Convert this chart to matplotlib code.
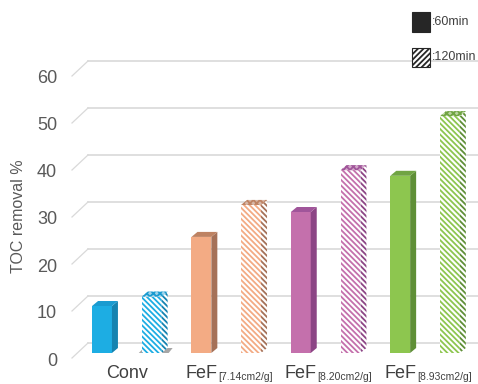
import matplotlib.pyplot as plt
from matplotlib.patches import Polygon, Rectangle
from matplotlib.transforms import offset_copy

plt.rcParams['font.family'] = ['Liberation Sans', 'DejaVu Sans']
plt.rcParams['hatch.linewidth'] = 1.3

# data
groups = ["Conv", "FeF", "FeF", "FeF"]
group_sub = ["", "[7.14cm2/g]", "[8.20cm2/g]", "[8.93cm2/g]"]
toc_60 = [10.0, 24.7, 30.0, 37.7]
toc_120 = [12.0, 31.5, 38.9, 50.4]
yticks = [0, 10, 20, 30, 40, 50, 60]

front = ['#1DADE3', '#F3AB84', '#C470AC', '#8DC64F']
side = ['#1583B0', '#A57158', '#8C4585', '#5F8F37']
top = ['#1A9BD0', '#BE8262', '#A0559A', '#70A443']
top_light = ['#9fd3ea', '#d7b7a6', '#d2a7c8', '#b9d39f']

W, H = 478, 384
fig = plt.figure(figsize=(W / 100, H / 100), dpi=100)
ax = fig.add_axes([72 / W, 31 / H, 406 / W, 282 / H])

pitch = 49.7          # px per bar slot
ppu = 282 / 60        # px per % on the y axis
x0 = -30 / pitch      # axes left edge in data units
ax.set_xlim(x0, x0 + 406 / pitch)
ax.set_ylim(0, 60)
ax.axis('off')


def px_x(p):
    return (p - 102) / pitch


dx, dy = 6 / pitch, 5 / ppu
w = 0.40

# floor / back-wall grid
for t in yticks:
    yb = t + 10 / ppu
    yf = t - 5 / ppu
    ax.plot([px_x(72), px_x(88)], [yf, yb], color='#d9d9d9', lw=0.9, zorder=0, clip_on=False)
    ax.plot([px_x(88), px_x(480)], [yb, yb], color='#d9d9d9', lw=1.2, zorder=0, clip_on=False)
    ax.text(px_x(57), yf - 1 / ppu, str(t), ha='right', va='center_baseline',
            fontsize=13, color='#595959')


def bar3d(x, v, i, hatched):
    hatch = '\\\\\\\\\\\\' if hatched else None
    ax.bar(x, v, width=w, color='white' if hatched else front[i],
           edgecolor=front[i] if hatched else 'none', hatch=hatch, linewidth=0, zorder=3)
    xr = x + w / 2
    s = Polygon([(xr, 0), (xr + dx, dy), (xr + dx, v + dy), (xr, v)],
                closed=True, facecolor='white' if hatched else side[i],
                edgecolor=side[i] if hatched else 'none', hatch=hatch, lw=0, zorder=3)
    ax.add_patch(s)
    tp = Polygon([(x - w / 2, v), (xr, v), (xr + dx, v + dy), (x - w / 2 + dx, v + dy)],
                 closed=True, facecolor=top_light[i] if hatched else top[i],
                 edgecolor=top[i] if hatched else 'none', hatch='xxxxx' if hatched else None,
                 lw=0, zorder=3)
    ax.add_patch(tp)


# base shadow under the first hatched bar
xs = 1
ax.add_patch(Polygon([(xs - w / 2 - 3 / pitch, 0), (xs + w / 2 + dx + 1 / pitch, 0),
                      (xs + w / 2 + dx + 5 / pitch, dy), (xs - w / 2 + 2 / pitch, dy)],
                     closed=True, facecolor='#a6a6a6', lw=0, zorder=2))

for i in range(len(groups)):
    bar3d(2 * i, toc_60[i], i, False)
    bar3d(2 * i + 1, toc_120[i], i, True)

# category labels: main text plus a smaller lowered bracket
lab_y = -25 / ppu
ax.text(0.5, lab_y, groups[0], ha='center', va='baseline', fontsize=13, color='#404040')
sub_tr = offset_copy(ax.transData, fig=fig, x=0, y=-2, units='dots')
for i in range(1, len(groups)):
    xc = 2 * i + 0.5
    ax.text(xc - 9 / pitch, lab_y, groups[i], ha='right', va='baseline',
            fontsize=13, color='#404040')
    ax.text(xc - 8 / pitch, lab_y, group_sub[i], ha='left', va='baseline', fontsize=7.5,
            color='#404040', transform=sub_tr)

fig.text(19 / W, 1 - 216 / H, "TOC removal %", rotation=90, ha='center', va='center',
         fontsize=11.5, color='#595959')

# legend
fig.patches.append(Rectangle((412 / W, 1 - 32 / H), 18 / W, 20 / H, transform=fig.transFigure,
                             facecolor='#262626', edgecolor='#262626', lw=0.8))
fig.patches.append(Rectangle((412 / W, 1 - 67 / H), 18 / W, 19 / H, transform=fig.transFigure,
                             facecolor='white', edgecolor='#262626', hatch='//////', lw=0.8))
fig.text(432 / W, 1 - 22 / H, ":60min", va='center', fontsize=9, color='#404040')
fig.text(432 / W, 1 - 57 / H, ":120min", va='center', fontsize=9, color='#404040')

fig.savefig("out.png", dpi=100)
